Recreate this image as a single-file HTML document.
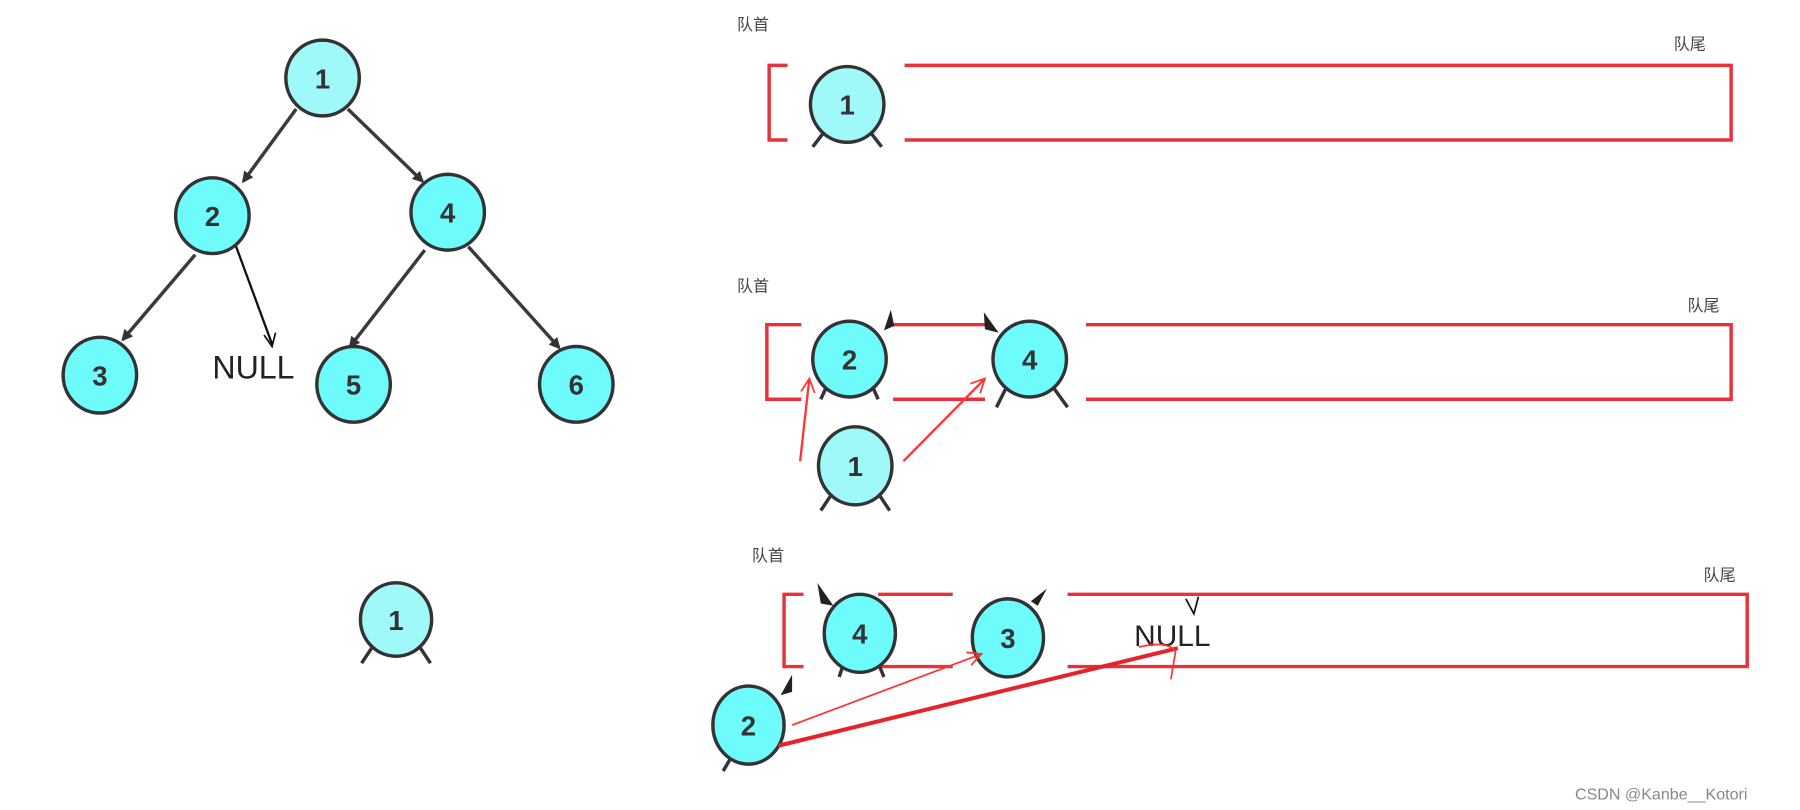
<!DOCTYPE html>
<html><head><meta charset="utf-8"><style>
html,body{margin:0;padding:0;background:#fff;}
svg{display:block}
text{font-family:"Liberation Sans","Noto Sans CJK SC",sans-serif;}
</style></head><body>
<svg width="1800" height="810" viewBox="0 0 1568 706" preserveAspectRatio="none" xmlns="http://www.w3.org/2000/svg">
<defs>
<marker id="ah" markerWidth="10" markerHeight="10" refX="8" refY="5" orient="auto" markerUnits="userSpaceOnUse"><path d="M0,0 L10,5 L0,10 Z" fill="#333"/></marker>
<marker id="rh" markerWidth="14" markerHeight="14" refX="12" refY="7" orient="auto" markerUnits="userSpaceOnUse"><path d="M0,1 L12,7 L0,13" fill="none" stroke="#f33" stroke-width="1.5"/></marker>
</defs>
<g stroke="#3a3a3a" stroke-width="3" marker-end="url(#ah)">
<line x1="258" y1="95" x2="212" y2="158"/>
<line x1="303" y1="95" x2="368" y2="158"/>
<line x1="170" y1="222" x2="107" y2="296"/>
<line x1="370" y1="218" x2="305" y2="302"/>
<line x1="408" y1="215" x2="487" y2="303"/>
</g>
<line x1="205" y1="213" x2="237" y2="300" stroke="#111" stroke-width="2"/>
<path d="M230,292 L237,302 L240,290" fill="none" stroke="#111" stroke-width="1.5"/>
<text x="185" y="330" font-size="28" fill="#222">NULL</text>
<g stroke="#333" stroke-width="3" font-weight="bold">
<ellipse cx="281" cy="68" rx="32" ry="33" fill="#a0f9f9"/>
<ellipse cx="185" cy="188" rx="32" ry="33" fill="#6dfbfb"/>
<ellipse cx="390" cy="185" rx="32" ry="33" fill="#6dfbfb"/>
<ellipse cx="87" cy="327" rx="32" ry="33" fill="#6dfbfb"/>
<ellipse cx="308" cy="335" rx="32" ry="33" fill="#6dfbfb"/>
<ellipse cx="502" cy="335" rx="32" ry="33" fill="#6dfbfb"/>
</g>
<g font-size="24" font-weight="bold" fill="#333" text-anchor="middle">
<text x="281" y="77">1</text><text x="185" y="197">2</text><text x="390" y="194">4</text>
<text x="87" y="336">3</text><text x="308" y="344">5</text><text x="502" y="344">6</text>
</g>
<!-- lone node -->
<g stroke="#333" stroke-width="3">
<line x1="325" y1="563" x2="315" y2="578"/><line x1="365" y1="563" x2="375" y2="578"/>
<ellipse cx="345" cy="540" rx="31" ry="32" fill="#a0f9f9"/>
<line x1="718" y1="115" x2="708" y2="128"/><line x1="758" y1="115" x2="768" y2="128"/>
<ellipse cx="738" cy="91" rx="32" ry="33" fill="#a0f9f9"/>
</g>
<text x="345" y="549" font-size="24" font-weight="bold" fill="#333" text-anchor="middle">1</text>
<text x="738" y="100" font-size="24" font-weight="bold" fill="#333" text-anchor="middle">1</text>
<!-- queue 1 -->
<g font-size="14" fill="#444"><text x="642" y="26">队首</text><text x="1458" y="43">队尾</text>
<text x="642" y="254">队首</text><text x="1470" y="271">队尾</text>
<text x="655" y="489">队首</text><text x="1484" y="506">队尾</text></g>
<g stroke="#e8323a" stroke-width="3" fill="none">
<path d="M686,57 H670 V122 H686"/><path d="M788,57 H1508 V122 H788"/>
<path d="M698,283 H668 V348 H698"/><line x1="778" y1="283" x2="860" y2="283"/><line x1="778" y1="348" x2="858" y2="348"/>
<path d="M946,283 H1508 V348 H946"/>
<path d="M700,518 H683 V581 H700"/><line x1="765" y1="518" x2="830" y2="518"/><line x1="765" y1="581" x2="830" y2="581"/>
<path d="M930,518 H1522 V581 H930"/>
</g>
<!-- queue 2 nodes -->
<g stroke="#333" stroke-width="3">
<line x1="720" y1="337" x2="715" y2="348"/><line x1="760" y1="337" x2="765" y2="348"/>
<ellipse cx="740" cy="313" rx="32" ry="33" fill="#6dfbfb"/>
<line x1="877" y1="337" x2="868" y2="355"/><line x1="917" y1="337" x2="930" y2="355"/>
<ellipse cx="897" cy="313" rx="32" ry="33" fill="#6dfbfb"/>
<line x1="725" y1="430" x2="715" y2="445"/><line x1="765" y1="430" x2="775" y2="445"/>
<ellipse cx="745" cy="406" rx="32" ry="34" fill="#a0f9f9"/>
</g>
<path d="M770,288 L776,270 L779,284 Z" fill="#222"/>
<path d="M857,272 L870,290 L858,287 Z" fill="#222"/>
<g font-size="24" font-weight="bold" fill="#333" text-anchor="middle">
<text x="740" y="322">2</text><text x="897" y="322">4</text><text x="745" y="415">1</text></g>
<g stroke="#f33" stroke-width="2" marker-end="url(#rh)">
<line x1="697" y1="402" x2="705" y2="330"/><line x1="787" y1="402" x2="858" y2="330"/>
</g>
<!-- queue 3 -->
<g stroke="#333" stroke-width="3">
<line x1="735" y1="578" x2="731" y2="590"/><line x1="765" y1="578" x2="770" y2="590"/>
<ellipse cx="749" cy="552" rx="31" ry="34" fill="#6dfbfb"/>
<ellipse cx="878" cy="556" rx="31" ry="34" fill="#6dfbfb"/>
<line x1="637" y1="660" x2="630" y2="672"/>
<ellipse cx="652" cy="632" rx="31" ry="34" fill="#6dfbfb"/>
</g>
<path d="M712,508 L726,528 L715,526 Z" fill="#222"/>
<path d="M898,524 L912,513 L904,528 Z" fill="#222"/>
<path d="M680,606 L690,588 L690,603 Z" fill="#222"/>
<g font-size="24" font-weight="bold" fill="#333" text-anchor="middle">
<text x="749" y="561">4</text><text x="878" y="565">3</text><text x="652" y="641">2</text></g>
<text x="988" y="563" font-size="26" fill="#222">NULL</text>
<path d="M1033,522 L1040,535 L1044,520" fill="none" stroke="#111" stroke-width="1.5"/>
<line x1="690" y1="632" x2="855" y2="570" stroke="#f33" stroke-width="1.5" marker-end="url(#rh)"/>
<line x1="678" y1="650" x2="1026" y2="565" stroke="#e8222a" stroke-width="3.5"/>
<path d="M992,564 Q1018,558 1024,568 Q1022,580 1020,592" fill="none" stroke="#f33" stroke-width="1.5"/>
<text x="1372" y="697" font-size="14" fill="#888">CSDN @Kanbe__Kotori</text>
</svg>
</body></html>
